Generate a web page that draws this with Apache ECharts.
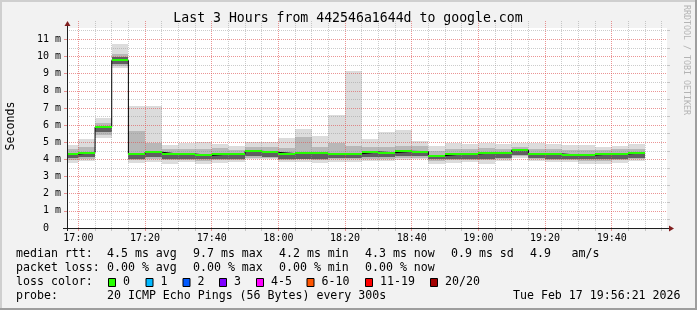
<!DOCTYPE html>
<html><head><meta charset="utf-8">
<script src="https://cdn.jsdelivr.net/npm/echarts@6/dist/echarts.min.js"></script>
<style>html,body{margin:0;padding:0;background:#f2f2f2}#c{width:697px;height:310px}</style>
</head><body><div id="c"></div>
<script>
// ---- data ----
const slotEnds = ["17:00","17:05","17:10","17:15","17:20","17:25","17:30","17:35","17:40","17:45","17:50","17:55",
  "18:00","18:05","18:10","18:15","18:20","18:25","18:30","18:35","18:40","18:45","18:50","18:55",
  "19:00","19:05","19:10","19:15","19:20","19:25","19:30","19:35","19:40","19:45","19:50"];
const medianMs = [4.31,4.40,5.88,9.77,4.30,4.42,4.31,4.31,4.23,4.31,4.31,4.47,4.41,4.34,4.35,4.35,4.29,4.33,4.43,4.39,4.47,4.45,4.22,4.31,4.32,4.38,4.38,4.54,4.32,4.32,4.25,4.25,4.32,4.32,4.38];
const minMs    = [3.80,3.90,5.26,9.30,3.80,3.84,3.76,3.84,3.71,3.80,3.84,4.00,4.00,3.85,3.85,3.77,3.85,3.85,3.90,3.90,3.96,4.00,3.71,3.80,3.84,3.76,3.90,4.09,3.90,3.84,3.84,3.76,3.76,3.80,3.90];
const maxMs    = [4.81,5.20,6.39,10.72,7.10,7.10,4.81,4.97,5.00,4.87,4.77,5.00,5.04,5.23,5.75,5.36,6.57,9.14,5.17,5.60,5.71,5.07,4.78,4.97,4.87,4.97,4.87,4.97,4.97,4.87,4.81,4.81,4.73,4.77,4.87];
const midLoMs  = [3.95,4.00,5.45,9.45,3.95,4.00,3.95,3.95,3.90,3.95,3.95,4.10,4.10,3.95,4.00,3.95,4.00,4.00,4.05,4.05,4.10,4.10,3.90,3.95,3.95,3.95,4.00,4.20,4.00,3.95,3.95,3.90,3.90,3.95,4.00];
const midHiMs  = [4.60,4.75,6.10,10.15,5.65,4.97,4.60,4.60,4.60,4.65,4.55,4.75,4.70,4.65,5.30,4.70,4.98,4.80,4.70,4.75,4.80,4.80,4.50,4.60,4.60,4.65,4.60,4.75,4.60,4.60,4.55,4.55,4.55,4.60,4.60];
const coreLoMs = [4.08,4.15,5.60,9.55,4.05,4.12,4.05,4.02,4.00,4.05,4.05,4.20,4.15,4.02,4.05,4.05,4.10,4.10,4.15,4.15,4.20,4.20,4.00,4.05,4.05,4.05,4.10,4.25,4.10,4.05,4.05,4.00,4.05,4.05,4.10];
const coreHiMs = [4.38,4.45,5.92,9.95,4.40,4.48,4.38,4.36,4.30,4.38,4.38,4.52,4.46,4.40,4.42,4.42,4.36,4.40,4.48,4.45,4.52,4.50,4.28,4.38,4.38,4.44,4.44,4.60,4.38,4.38,4.32,4.32,4.38,4.38,4.44];
const lossCount = [0,0,0,0,0,0,0,0,0,0,0,0,0,0,0,0,0,0,0,0,0,0,0,0,0,0,0,0,0,0,0,0,0,0,0];
const xTickLabels = ["17:00","17:20","17:40","18:00","18:20","18:40","19:00","19:20","19:40"];
const yTickValues = [0,1,2,3,4,5,6,7,8,9,10,11];
const lossLabels = ["0","1","2","3","4-5","6-10","11-19","20/20"];
const lossColors = ["#26ff00","#00b8ff","#0059ff","#7e00ff","#ff00ff","#ff5500","#ff0000","#a10000"];
const lossUpper  = [0,1,2,3,5,10,19,20];

// ---- layout ----
const GL = 67, GW = 600, CANVAS_TOP = 28, BOTTOM = 228, GT = 21;
const CANVAS_MAX = 11.66;                       // value at the top of the white canvas
const PX_PER_MS = (BOTTOM - CANVAS_TOP) / CANVAS_MAX;
const Y_MAX = (BOTTOM - GT) / PX_PER_MS;        // grid lines reach a little above the canvas
const GH = BOTTOM - GT;
const toMin = s => { const p = s.split(':').map(Number); return p[0]*60 + p[1]; };
const X_MIN = toMin("16:56") + 35/60, X_MAX = X_MIN + 180, SLOT = 5;
const fmtHM = v => { const h = Math.floor(v/60), m = Math.round(v - h*60); return String(h).padStart(2,'0')+':'+String(m).padStart(2,'0'); };
const lossColor = n => lossColors[lossUpper.findIndex(u => n <= u)];

const bars = slotEnds.map((t,i) => {
  const e = toMin(t), s = Math.max(e - SLOT, X_MIN);
  return [s, e, minMs[i], maxMs[i], midLoMs[i], midHiMs[i], coreLoMs[i], coreHiMs[i], medianMs[i], lossCount[i]];
});
const stepData = bars.map(b => [b[0], b[8]]);
stepData.push([bars[bars.length-1][1], bars[bars.length-1][8]]);

const majorX = xTickLabels.map(toMin);
const minorX = [];
for (let v = 1020; v < X_MAX; v += 5) if (!majorX.includes(v)) minorX.push(v);
const minorY = yTickValues.map(v => v + 0.5).filter(v => v < CANVAS_MAX);

const MONO = "'DejaVu Sans Mono', monospace";
const majorColor = 'rgba(222,79,79,0.6)', minorColor = 'rgba(143,143,143,0.45)';

function px(x){return Math.round(x);}
function smokeItem(params, api) {
  const s = api.value(0), e = api.value(1);
  const x0 = px(api.coord([s,0])[0]), x1 = px(api.coord([e,0])[0]);
  const band = (lo, hi, fill) => {
    const y0 = px(api.coord([s,hi])[1]), y1 = px(api.coord([s,lo])[1]);
    return {type:'rect', shape:{x:x0, y:y0, width:x1-x0, height:y1-y0}, style:{fill}};
  };
  return {type:'group', children:[
    band(api.value(2), api.value(3), '#dcdcdc'),
    band(api.value(4), api.value(5), '#b8b8b8'),
    band(api.value(6), api.value(7), '#606060')
  ]};
}
function medianItem(params, api) {
  const s = api.value(0), e = api.value(1);
  const x0 = px(api.coord([s,0])[0]), x1 = px(api.coord([e,0])[0]);
  const y = px(api.coord([s, api.value(8)])[1]);
  return {type:'rect', shape:{x:x0, y:y-1, width:x1-x0, height:2}, style:{fill: lossColor(api.value(9))}};
}

const chart = echarts.init(document.getElementById('c'), null, {renderer:'canvas'});
const legendRows = [254, 268, 282, 295.5];
const txt = (x, y, s, extra) => Object.assign({type:'text', x, y, style:{text:s, font:`11.6px ${MONO}`, fill:'#000', textVerticalAlign:'middle'}, silent:true}, extra||{});
const graphics = [
  // white canvas
  {type:'rect', shape:{x:GL, y:CANVAS_TOP, width:GW, height:BOTTOM-CANVAS_TOP}, style:{fill:'#ffffff'}, z:-100},
  // frame shades
  {type:'rect', shape:{x:0,y:0,width:697,height:2}, style:{fill:'#cfcfcf'}},
  {type:'rect', shape:{x:0,y:0,width:2,height:310}, style:{fill:'#cfcfcf'}},
  {type:'rect', shape:{x:0,y:308,width:697,height:2}, style:{fill:'#9e9e9e'}},
  {type:'rect', shape:{x:695,y:0,width:2,height:310}, style:{fill:'#9e9e9e'}},
  // axes
  {type:'line', shape:{x1:GL+0.5, y1:BOTTOM+3, x2:GL+0.5, y2:CANVAS_TOP-5}, style:{stroke:'#1f1f1f', lineWidth:1}, z:50},
  {type:'line', shape:{x1:GL-4, y1:BOTTOM+0.5, x2:GL+GW+3, y2:BOTTOM+0.5}, style:{stroke:'#1f1f1f', lineWidth:1}, z:50},
  {type:'polygon', shape:{points:[[GL-2.5,CANVAS_TOP-2],[GL+3.5,CANVAS_TOP-2],[GL+0.5,CANVAS_TOP-7]]}, style:{fill:'#801f1f'}, z:51},
  {type:'polygon', shape:{points:[[GL+GW+2,BOTTOM-2.5],[GL+GW+2,BOTTOM+3.5],[GL+GW+7,BOTTOM+0.5]]}, style:{fill:'#801f1f'}, z:51},
  // title and side labels
  {type:'text', x:348, y:18.7, style:{text:'Last 3 Hours from 442546a1644d to google.com', font:`13.2px ${MONO}`, fill:'#000', textAlign:'center', textVerticalAlign:'middle'}, z:60},
  {type:'text', x:10.5, y:126, rotation:Math.PI/2, style:{text:'Seconds', font:`11.6px ${MONO}`, fill:'#000', textAlign:'center', textVerticalAlign:'middle'}},
  {type:'text', x:686.5, y:60, rotation:-Math.PI/2, style:{text:'RRDTOOL / TOBI OETIKER', font:`8.3px ${MONO}`, fill:'#b4b4b4', textAlign:'center', textVerticalAlign:'middle'}},
  // legend rows
  txt(16, legendRows[0], 'median rtt:'),
  txt(107, legendRows[0], '4.5 ms avg'), txt(193, legendRows[0], '9.7 ms max'), txt(279, legendRows[0], '4.2 ms min'),
  txt(365, legendRows[0], '4.3 ms now'), txt(451, legendRows[0], '0.9 ms sd'), txt(530, legendRows[0], '4.9'), txt(571.5, legendRows[0], 'am/s'),
  txt(16, legendRows[1], 'packet loss:'),
  txt(107, legendRows[1], '0.00 % avg'), txt(193, legendRows[1], '0.00 % max'), txt(279, legendRows[1], '0.00 % min'), txt(365, legendRows[1], '0.00 % now'),
  txt(16, legendRows[2], 'loss color:'),
  txt(16, legendRows[3], 'probe:'),
  txt(107, legendRows[3], '20 ICMP Echo Pings (56 Bytes) every 300s'),
  {type:'text', x:680.5, y:legendRows[3], style:{text:'Tue Feb 17 19:56:21 2026', font:`11.6px ${MONO}`, fill:'#000', textAlign:'right', textVerticalAlign:'middle'}}
];
const boxX = [108, 145.5, 182.5, 219, 256, 306.5, 365, 430];
lossLabels.forEach((l,i) => {
  graphics.push({type:'rect', shape:{x:boxX[i]+0.5, y:278.5, width:7, height:8}, style:{fill:lossColors[i], stroke:'#000', lineWidth:1}});
  graphics.push(txt(boxX[i]+15, legendRows[2], l));
});

chart.setOption({
  backgroundColor:'#f2f2f2',
  animation:false,
  grid:{left:GL, top:GT, width:GW, height:GH, show:false},
  xAxis:[
    {type:'value', min:X_MIN, max:X_MAX, z:3, position:'bottom',
     axisLine:{show:false},
     axisTick:{show:true, customValues:majorX, length:3, lineStyle:{color:majorColor}},
     axisLabel:{customValues:majorX, formatter:v=>fmtHM(v), fontFamily:MONO, fontSize:10, color:'#000', margin:5},
     splitLine:{show:true, lineStyle:{color:majorColor, type:[1,1], width:1}}},
    {type:'value', min:X_MIN, max:X_MAX, z:2, position:'bottom',
     axisLine:{show:false},
     axisTick:{show:true, customValues:minorX, length:3, lineStyle:{color:minorColor}},
     axisLabel:{show:false},
     splitLine:{show:true, lineStyle:{color:minorColor, type:[1,1], width:1}}}
  ],
  yAxis:[
    {type:'value', min:0, max:Y_MAX, z:3,
     axisLine:{show:false},
     axisTick:{show:true, customValues:yTickValues, length:3, lineStyle:{color:majorColor}},
     axisLabel:{customValues:yTickValues, formatter:v => v===0 ? '0  ' : v+' m', fontFamily:MONO, fontSize:10, color:'#000', margin:6},
     splitLine:{show:true, lineStyle:{color:majorColor, type:[1,1], width:1}}},
    {type:'value', min:0, max:Y_MAX, z:2,
     axisLine:{show:false},
     axisTick:{show:true, customValues:minorY, length:3, lineStyle:{color:minorColor}},
     axisLabel:{show:false},
     splitLine:{show:true, lineStyle:{color:minorColor, type:[1,1], width:1}}}
  ],
  series:[
    {type:'custom', name:'smoke', xAxisIndex:0, yAxisIndex:0, z:1, clip:true, renderItem:smokeItem, data:bars, encode:{x:[0,1], y:[2,3]}},
    {type:'line', name:'median', xAxisIndex:0, yAxisIndex:0, z:4, step:'end', symbol:'none', data:stepData, lineStyle:{color:'#000', width:1}},
    {type:'custom', name:'median loss', xAxisIndex:0, yAxisIndex:0, z:5, renderItem:medianItem, data:bars, encode:{x:[0,1], y:[8]}}
  ],
  graphic:graphics
});
</script></body></html>
